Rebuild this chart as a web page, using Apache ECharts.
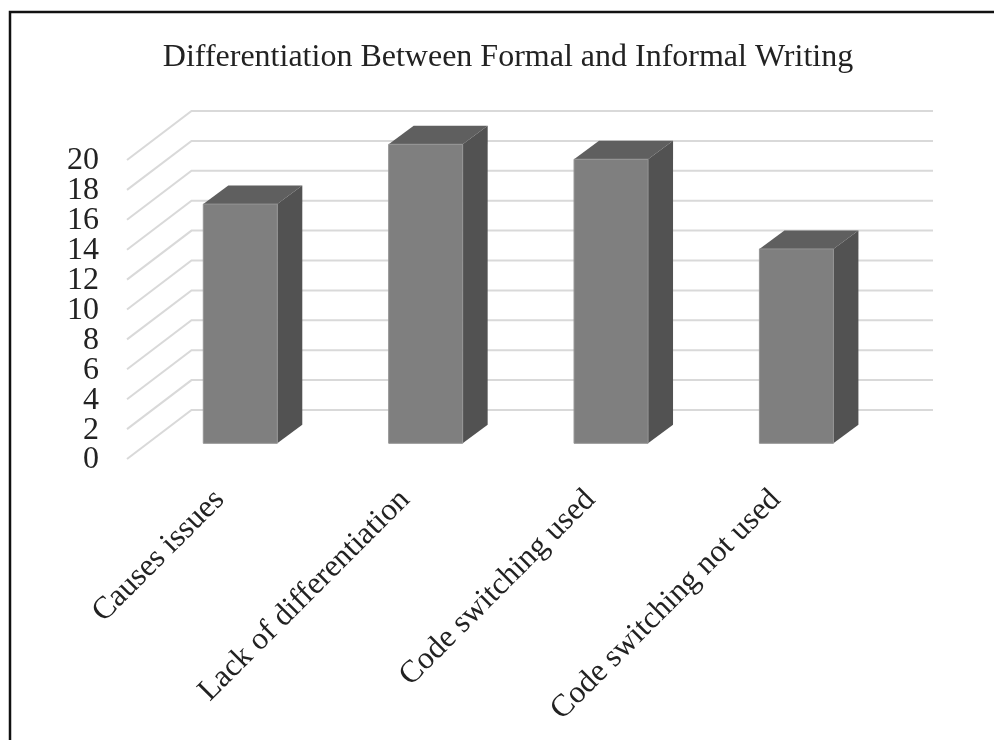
<!DOCTYPE html>
<html>
<head>
<meta charset="utf-8">
<style>html,body{margin:0;padding:0;background:#fff}#chart{width:994px;height:740px}</style>
<script src="https://cdn.jsdelivr.net/npm/echarts@6/dist/echarts.min.js"></script>
</head>
<body>
<div id="chart"></div>
<script>
const categories = ['Causes issues', 'Lack of differentiation', 'Code switching used', 'Code switching not used'];
const counts = [16, 20, 19, 13];
const valueTicks = [0, 2, 4, 6, 8, 10, 12, 14, 16, 18, 20];

// Pseudo-3D projection of the plot box, in pixels
const wallDepth = [64.5, -49];
const barDepth = [25, -18.5];
const barWidth = 74;
const serif = '"Liberation Serif", "Times New Roman", serif';

const chart = echarts.init(document.getElementById('chart'), null, { renderer: 'canvas' });

// Floor-to-wall gridline: diagonal along the side wall, then across the back wall
function renderGridLine(params, api) {
  const box = params.coordSys;
  const y = api.coord([0, api.value(0)])[1];
  const bx = box.x + wallDepth[0];
  const by = y + wallDepth[1];
  return {
    type: 'polyline',
    shape: { points: [[box.x, y], [bx, by], [box.x + box.width + wallDepth[0], by]] },
    style: { fill: null, stroke: '#d9d9d9', lineWidth: 2 },
    silent: true
  };
}

// Tick numbers sit closer together than their line height, so every one is placed
// on its own to stop the axis dropping labels it considers overlapping
function renderTickLabel(params, api) {
  const box = params.coordSys;
  const y = api.coord([0, api.value(0)])[1];
  return {
    type: 'text',
    style: {
      x: box.x - 28,
      y: y + 1,
      text: String(api.value(0)),
      align: 'right',
      verticalAlign: 'middle',
      fontFamily: serif,
      fontSize: 32,
      fill: '#222'
    },
    silent: true
  };
}

// One extruded bar: top face, right face, then the front face
function renderBar(params, api) {
  const base = api.coord([api.value(0), 0]);
  const top = api.coord([api.value(0), api.value(1)]);
  const l = base[0] - barWidth / 2;
  const r = l + barWidth;
  const b = base[1];
  const t = top[1];
  const [dx, dy] = barDepth;
  return {
    type: 'group',
    children: [
      { type: 'polygon', shape: { points: [[l, t], [r, t], [r + dx, t + dy], [l + dx, t + dy]] }, style: { fill: '#5f5f5f' } },
      { type: 'polygon', shape: { points: [[r, t], [r + dx, t + dy], [r + dx, b + dy], [r, b]] }, style: { fill: '#525252' } },
      { type: 'rect', shape: { x: l, y: t, width: barWidth, height: b - t }, style: { fill: '#7f7f7f', stroke: '#949494', lineWidth: 1 } }
    ]
  };
}

chart.setOption({
  animation: false,
  backgroundColor: '#fff',
  title: {
    text: 'Differentiation Between Formal and Informal Writing',
    left: 503,
    top: 37,
    textAlign: 'center',
    textStyle: { fontFamily: serif, fontWeight: 'normal', fontSize: 32, color: '#222' }
  },
  grid: [
    { left: 127, top: 160, width: 741.5, height: 299 },
    { left: 147.6, top: 144.3, width: 741.5, height: 299 }
  ],
  xAxis: [
    {
      type: 'category',
      gridIndex: 0,
      data: categories,
      axisLine: { show: false },
      axisTick: { show: false },
      axisLabel: { interval: 0, rotate: 45, margin: 36, fontFamily: serif, fontSize: 31.5, color: '#222' }
    },
    { type: 'category', gridIndex: 1, data: categories, axisLine: { show: false }, axisTick: { show: false }, axisLabel: { show: false } }
  ],
  yAxis: [
    {
      type: 'value',
      gridIndex: 0,
      min: 0,
      max: 20,
      interval: 2,
      axisLine: { show: false },
      axisTick: { show: false },
      splitLine: { show: false },
      axisLabel: { show: false }
    },
    {
      type: 'value',
      gridIndex: 1,
      min: 0,
      max: 20,
      interval: 2,
      axisLine: { show: false },
      axisTick: { show: false },
      splitLine: { show: false },
      axisLabel: { show: false }
    }
  ],
  series: [
    { type: 'custom', xAxisIndex: 0, yAxisIndex: 0, data: valueTicks.map(v => [v]), encode: { y: 0 }, renderItem: renderGridLine, silent: true, z: 1 },
    { type: 'custom', xAxisIndex: 0, yAxisIndex: 0, data: valueTicks.map(v => [v]), encode: { y: 0 }, renderItem: renderTickLabel, silent: true, clip: false, z: 3 },
    { type: 'custom', xAxisIndex: 1, yAxisIndex: 1, data: counts.map((v, i) => [i, v]), encode: { x: 0, y: 1 }, renderItem: renderBar, z: 2 }
  ],
  // Frame runs along the top and left edges only
  graphic: [{
    type: 'polyline',
    shape: { points: [[10, 740], [10, 12], [994, 12]] },
    style: { fill: 'none', stroke: '#111', lineWidth: 2.5 },
    silent: true
  }]
});
</script>
</body>
</html>
